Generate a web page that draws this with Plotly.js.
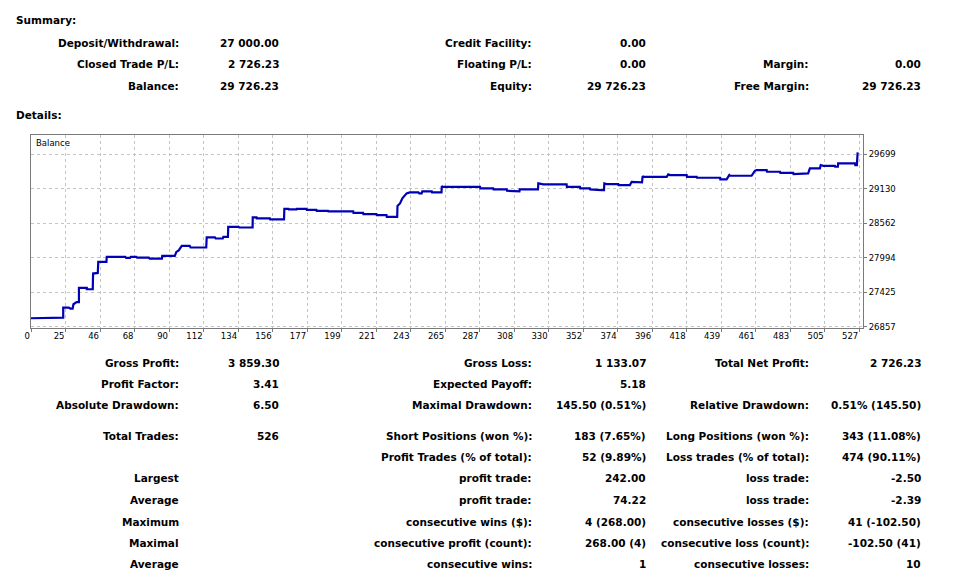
<!DOCTYPE html>
<html>
<head>
<meta charset="utf-8">
<script src="https://cdn.plot.ly/plotly-3.0.1.min.js"></script>
<style>html,body{margin:0;padding:0;background:#fff;}#chart{width:978px;height:573px;}</style>
</head>
<body>
<div id="chart"></div>
<script>
// ---------- DATA ----------
const tradeNo = [0,16,16,20.5,20.5,24,25,26.5,27,29,30.5,30.5,35.5,35.5,39.3,39.5,42.5,42.8,48,48.2,
  60,60.5,63,63.5,67,67.5,75,75.5,83.3,83.5,91.5,92.5,94,95.9,101,101.5,111.5,111.8,117,117.5,
  122,122.4,125.3,125.5,132,132.5,141,141.1,143.5,143.6,152,152.2,161,161.2,163.8,164,169,169.2,175.3,175.5,
  181.6,181.8,189,189.2,205,205.2,211.3,211.5,219.8,220,226.2,226.4,233,233.2,234.8,236.3,239,241,246.5,247,
  248.6,249,255,255.2,261.2,261.4,262,285.7,285.9,294.1,294.3,302.7,302.9,309,309.5,310.8,311,322.6,322.8,326,
  340.8,341,349.3,349.5,355.6,355.8,363,364.6,364.8,366.3,373.7,373.9,381.1,382.2,388.8,389.2,389.6,404.5,405.5,406.7,
  417.2,417.4,423.6,423.8,438.4,438.6,442.6,444.3,444.7,458.5,460.6,461.7,468.1,468.3,476.6,476.8,485,485.2,490.4,490.6,
  494.5,495.6,502,502.5,504.1,511.5,511.7,513.4,513.6,524.3,524.5,525.5,526];
const balance = [27000,27000,27011,27011,27176,27176,27160,27160,27230,27265,27265,27498,27498,27477,27477,27735,27745,27926,27926,28009,
  28009,27993,27993,28009,28009,27995,27995,27980,27980,28025,28025,28090,28115,28190,28190,28163,28163,28328,28328,28311,
  28311,28338,28338,28502,28502,28492,28492,28657,28657,28641,28641,28624,28624,28799,28799,28789,28789,28799,28799,28782,
  28782,28766,28766,28756,28756,28733,28733,28711,28711,28695,28695,28667,28667,28845,28888,28970,29052,29069,29069,29052,
  29052,29085,29085,29069,29069,29172,29161,29161,29134,29134,29118,29118,29095,29095,29085,29085,29118,29118,29217,29200,
  29200,29161,29161,29134,29134,29118,29106,29106,29217,29205,29205,29189,29189,29243,29233,29337,29325,29325,29365,29353,
  29353,29325,29325,29309,29309,29283,29283,29353,29342,29342,29424,29436,29436,29408,29408,29391,29391,29370,29370,29381,
  29381,29464,29464,29518,29506,29506,29490,29490,29546,29546,29518,29518,29726];

const xTickLabels = ["0","25","46","68","90","112","134","156","177","199","221","243","265","287","308","330","352","374","396","418","439","461","483","505","527"];
const yTickValues = [26857,27425,27994,28562,29130,29699];
const yTickLabels = ["26857","27425","27994","28562","29130","29699"];
const seriesName = "Balance";

const summaryTitle = "Summary:";
const detailsTitle = "Details:";
const summaryRows = [
  ["Deposit/Withdrawal:", "27 000.00", "Credit Facility:", "0.00", "", ""],
  ["Closed Trade P/L:", "2 726.23", "Floating P/L:", "0.00", "Margin:", "0.00"],
  ["Balance:", "29 726.23", "Equity:", "29 726.23", "Free Margin:", "29 726.23"]
];
const detailRows = [
  ["Gross Profit:", "3 859.30", "Gross Loss:", "1 133.07", "Total Net Profit:", "2 726.23"],
  ["Profit Factor:", "3.41", "Expected Payoff:", "5.18", "", ""],
  ["Absolute Drawdown:", "6.50", "Maximal Drawdown:", "145.50 (0.51%)", "Relative Drawdown:", "0.51% (145.50)"],
  ["Total Trades:", "526", "Short Positions (won %):", "183 (7.65%)", "Long Positions (won %):", "343 (11.08%)"],
  ["", "", "Profit Trades (% of total):", "52 (9.89%)", "Loss trades (% of total):", "474 (90.11%)"],
  ["Largest", "", "profit trade:", "242.00", "loss trade:", "-2.50"],
  ["Average", "", "profit trade:", "74.22", "loss trade:", "-2.39"],
  ["Maximum", "", "consecutive wins ($):", "4 (268.00)", "consecutive losses ($):", "41 (-102.50)"],
  ["Maximal", "", "consecutive profit (count):", "268.00 (4)", "consecutive loss (count):", "-102.50 (41)"],
  ["Average", "", "consecutive wins:", "1", "consecutive losses:", "10"]
];

// ---------- LAYOUT / STYLE ----------
const W = 978, H = 573;
const PL = 31, PR = 863, PT = 135, PB = 328;
const px = x => (x - PL) / (PR - PL);
const py = y => (PB - y) / (PB - PT);
const xMax = 529.4;
const tickStep = 527 / 24;
const xTickVals = xTickLabels.map((_, i) => i * tickStep);

const colRight = [180, 280, 533, 647, 810, 922];
const summaryY = [43, 64, 86];
const detailY = [363, 384, 405, 436, 457, 478, 500, 522, 543, 564];
const tblFont = {family: "DejaVu Sans", size: 10.5, color: "#000", weight: "bold"};

const annotations = [];
function addText(text, x, y, anchor, font) {
  if (!text) return;
  annotations.push({text: "<b>" + text + "</b>", xref: "paper", yref: "paper", x: px(x), y: py(y),
    xanchor: anchor, yanchor: "middle", showarrow: false, font: font, borderpad: 0});
}
addText(summaryTitle, 15, 20, "left", tblFont);
addText(detailsTitle, 15, 115, "left", tblFont);
summaryRows.forEach((row, r) => row.forEach((t, c) => addText(t, colRight[c], summaryY[r], "right", tblFont)));
detailRows.forEach((row, r) => row.forEach((t, c) => addText(t, colRight[c], detailY[r], "right", tblFont)));
annotations.push({text: seriesName, xref: "paper", yref: "paper", x: px(35), y: py(143), xanchor: "left", yanchor: "middle",
  showarrow: false, font: {family: "DejaVu Sans", size: 8.5, color: "#000"}, borderpad: 0});

const trace = {x: tradeNo, y: balance, type: "scatter", mode: "lines", name: seriesName,
  line: {color: "#0000b4", width: 2.2}, hoverinfo: "skip"};

const axisCommon = {showgrid: true, gridcolor: "#c4c4c4", griddash: "3px,3px", gridwidth: 1, zeroline: false,
  showline: true, mirror: true, linecolor: "#7a7a7a", linewidth: 1, ticks: "outside", ticklen: 3, tickcolor: "#7a7a7a",
  tickfont: {family: "DejaVu Sans", size: 8.5, color: "#000"}, fixedrange: true};

const layout = {
  width: W, height: H,
  margin: {l: PL, r: W - PR, t: PT, b: H - PB, pad: 0},
  paper_bgcolor: "#ffffff", plot_bgcolor: "#ffffff", showlegend: false,
  xaxis: Object.assign({}, axisCommon, {range: [0, xMax], tickmode: "array", tickvals: xTickVals, ticktext: xTickLabels,
    ticklabelposition: "outside left"}),
  yaxis: Object.assign({}, axisCommon, {side: "right", range: [26840, 30012], tickmode: "array", tickvals: yTickValues, ticktext: yTickLabels}),
  annotations: annotations
};

Plotly.newPlot("chart", [trace], layout, {staticPlot: true, displayModeBar: false});
</script>
</body>
</html>
